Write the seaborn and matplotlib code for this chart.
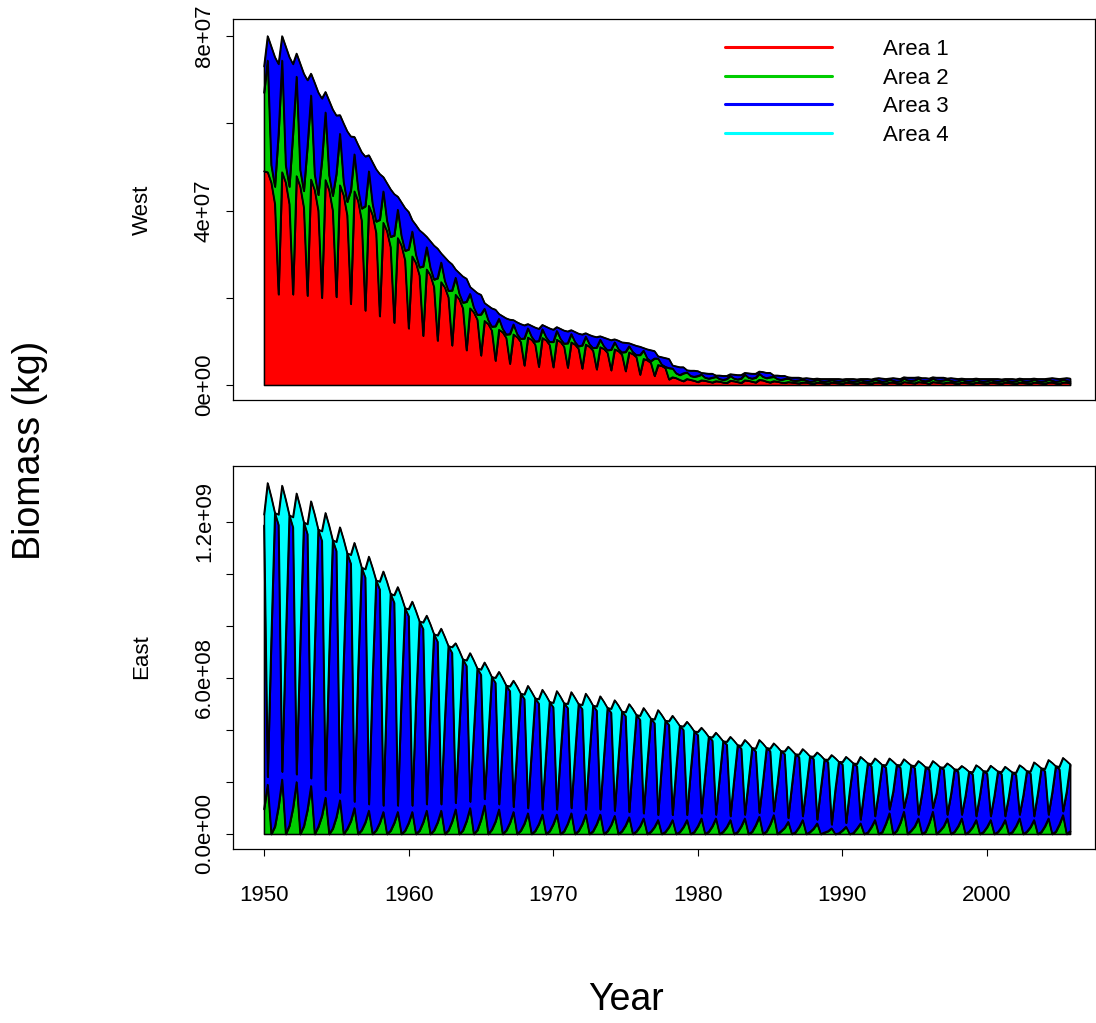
import numpy as np
import matplotlib
matplotlib.use("Agg")
import matplotlib.pyplot as plt
from matplotlib.lines import Line2D
from matplotlib.ticker import FixedLocator, FixedFormatter
import seaborn as sns

# ---------------------------------------------------------------
# Quarterly biomass by area, 1950-2005 (one value per year per quarter)
# ---------------------------------------------------------------
years = list(range(1950, 2006))
quarter_offsets = [0.0, 0.25, 0.5, 0.75]
area_labels = ["Area 1", "Area 2", "Area 3", "Area 4"]
area_colors = ["#FF0000", "#00CD00", "#0000FF", "#00FFFF"]

# West stock, units of 1e5 kg
WEST_UNIT = 1e5
west_a1_q1 = [490, 208, 208, 205, 200, 202, 186, 171, 158, 143,
              130, 113, 102, 91, 80, 68, 56, 49, 45, 42,
              41, 40, 38, 36, 34, 32, 24, 21, 13, 9,
              7, 6, 5, 5, 6, 6, 5, 4, 3, 3,
              3, 3, 3, 3, 3, 4, 3, 4, 3, 3,
              3, 3, 3, 3, 3, 3]
west_a1_q2 = [488, 488, 479, 471, 470, 458, 444, 411, 372, 337,
              295, 265, 236, 207, 176, 147, 127, 116, 109, 108,
              104, 98, 93, 87, 82, 75, 60, 46, 18, 14,
              11, 9, 10, 11, 12, 9, 7, 6, 6, 6,
              6, 6, 6, 6, 7, 7, 7, 6, 6, 6,
              6, 6, 6, 6, 6, 6]
west_a1_q3 = [464, 464, 455, 447, 447, 435, 422, 390, 353, 320,
              280, 252, 224, 197, 167, 140, 121, 110, 104, 103,
              99, 93, 88, 83, 78, 71, 57, 44, 16, 12,
              10, 8, 9, 10, 11, 8, 6, 6, 5, 5,
              5, 5, 6, 6, 6, 6, 6, 6, 5, 5,
              5, 5, 5, 5, 6, 6]
west_a1_q4 = [415, 415, 407, 400, 400, 389, 377, 349, 316, 286,
              251, 225, 201, 176, 150, 125, 108, 99, 93, 92,
              88, 83, 79, 74, 70, 64, 51, 39, 12, 10,
              8, 6, 7, 8, 8, 6, 5, 4, 4, 4,
              4, 4, 4, 4, 5, 5, 5, 4, 4, 4,
              4, 4, 4, 4, 4, 4]

west_a2_q1 = [180, 368, 368, 342, 314, 282, 260, 239, 221, 200,
              181, 159, 143, 126, 111, 94, 79, 68, 62, 59,
              58, 56, 53, 50, 47, 44, 45, 40, 26, 18,
              14, 11, 9, 10, 11, 12, 9, 7, 6, 6,
              6, 6, 6, 6, 6, 7, 7, 7, 6, 6,
              6, 6, 6, 6, 6, 6]
west_a2_q2 = [256, 256, 228, 193, 155, 118, 85, 79, 72, 65,
              57, 51, 45, 39, 33, 28, 25, 23, 21, 20,
              20, 19, 18, 17, 16, 14, 19, 15, 20, 15,
              13, 10, 11, 13, 14, 10, 8, 7, 7, 6,
              6, 6, 7, 7, 8, 8, 8, 7, 7, 7,
              6, 6, 7, 7, 7, 7]
west_a2_q3 = [40, 40, 38, 36, 34, 31, 28, 26, 24, 22,
              19, 17, 15, 13, 11, 9, 8, 7, 7, 7,
              7, 6, 6, 6, 5, 5, 4, 3, 11, 9,
              7, 6, 6, 7, 8, 6, 5, 4, 4, 4,
              4, 4, 4, 4, 5, 4, 5, 4, 4, 4,
              4, 4, 4, 4, 4, 4]
west_a2_q4 = [40, 40, 38, 36, 34, 31, 28, 26, 24, 22,
              19, 17, 15, 13, 11, 9, 8, 7, 7, 7,
              7, 6, 6, 6, 5, 5, 4, 3, 11, 9,
              7, 6, 6, 7, 8, 6, 5, 4, 4, 4,
              4, 4, 4, 4, 5, 4, 5, 4, 4, 4,
              4, 4, 4, 4, 4, 4]

west_a3_q1 = [60, 160, 160, 152, 143, 134, 124, 114, 105, 95,
              86, 76, 68, 60, 53, 45, 38, 33, 30, 28,
              28, 27, 25, 24, 22, 21, 19, 17, 21, 14,
              11, 9, 7, 8, 9, 10, 7, 6, 5, 5,
              4, 4, 4, 5, 5, 6, 5, 6, 5, 5,
              5, 4, 4, 5, 5, 5]
west_a3_q2 = [56, 56, 53, 50, 47, 43, 40, 37, 33, 30,
              26, 24, 21, 19, 16, 13, 11, 10, 10, 10,
              9, 9, 8, 8, 7, 7, 6, 5, 7, 5,
              4, 3, 4, 4, 5, 3, 3, 2, 2, 2,
              2, 2, 2, 2, 3, 3, 3, 2, 2, 2,
              2, 2, 2, 2, 2, 2]
west_a3_q3 = [272, 272, 244, 210, 171, 134, 101, 95, 86, 77,
              68, 61, 54, 47, 40, 33, 29, 27, 25, 24,
              23, 23, 21, 20, 19, 17, 21, 17, 16, 12,
              10, 8, 9, 10, 11, 8, 6, 6, 5, 5,
              5, 5, 6, 6, 6, 6, 6, 6, 5, 5,
              5, 5, 5, 5, 6, 6]
west_a3_q4 = [297, 297, 269, 235, 198, 162, 129, 120, 109, 98,
              85, 78, 68, 60, 50, 42, 37, 34, 32, 31,
              30, 29, 27, 26, 23, 21, 25, 20, 18, 14,
              11, 9, 10, 11, 12, 9, 7, 7, 6, 6,
              6, 6, 7, 7, 7, 7, 7, 7, 6, 6,
              6, 6, 6, 6, 7, 7]

# East stock, units of 1e6 kg
EAST_UNIT = 1e6
east_a2_q1 = [95, 105, 100, 93, 70, 65, 50, 45, 43, 43,
              43, 45, 45, 48, 50, 55, 48, 43, 40, 38,
              38, 40, 38, 38, 35, 33, 30, 27, 27, 27,
              30, 30, 27, 30, 34, 37, 24, 27, 21, 11,
              14, 21, 27, 40, 43, 30, 43, 30, 30, 27,
              27, 27, 30, 27, 30, 37]
east_a2_q2 = [190, 210, 200, 185, 140, 130, 100, 90, 85, 85,
              85, 90, 90, 95, 100, 110, 95, 85, 80, 75,
              75, 80, 75, 75, 70, 65, 60, 54, 54, 54,
              60, 60, 54, 60, 67, 73, 47, 54, 41, 22,
              28, 41, 54, 80, 86, 60, 86, 60, 60, 54,
              54, 54, 60, 54, 60, 73]
east_a2_q3 = [0, 0, 0, 0, 0, 0, 0, 0, 0, 0,
              0, 0, 0, 0, 0, 0, 0, 0, 0, 0,
              0, 0, 0, 0, 0, 0, 0, 0, 0, 0,
              0, 0, 0, 0, 0, 0, 0, 0, 0, 0,
              0, 0, 0, 0, 0, 0, 0, 0, 0, 0,
              0, 0, 0, 0, 0, 0]
east_a2_q4 = [29, 32, 30, 28, 21, 20, 15, 14, 13, 13,
              13, 14, 14, 14, 15, 17, 14, 13, 12, 11,
              11, 12, 11, 11, 11, 10, 9, 8, 8, 8,
              9, 9, 8, 9, 10, 11, 7, 8, 6, 3,
              4, 6, 8, 12, 13, 9, 13, 9, 9, 8,
              8, 8, 9, 8, 9, 11]

east_a3_q1 = [1092, 1084, 1080, 1061, 1058, 1024, 990, 942, 898, 847,
              795, 744, 695, 649, 597, 558, 534, 507, 480, 464,
              450, 445, 443, 437, 432, 421, 410, 400, 393, 374,
              351, 330, 317, 299, 284, 282, 284, 269, 268, 266,
              254, 240, 234, 216, 213, 224, 205, 218, 210, 203,
              206, 204, 198, 206, 212, 213]
east_a3_q2 = [30, 30, 30, 30, 30, 30, 25, 25, 25, 25,
              25, 25, 25, 25, 25, 25, 20, 20, 20, 20,
              20, 20, 20, 20, 20, 20, 20, 20, 20, 20,
              20, 15, 15, 15, 15, 15, 15, 15, 15, 15,
              15, 15, 15, 15, 15, 15, 15, 15, 15, 15,
              15, 15, 15, 15, 15, 15]
east_a3_q3 = [752, 746, 730, 713, 688, 657, 624, 594, 563, 529,
              498, 468, 440, 409, 388, 368, 348, 329, 317, 309,
              306, 304, 301, 295, 287, 279, 270, 266, 253, 241,
              228, 217, 208, 202, 202, 194, 187, 182, 175, 169,
              165, 165, 162, 162, 160, 157, 157, 152, 146, 148,
              146, 144, 148, 154, 159, 163]
east_a3_q4 = [1206, 1194, 1169, 1143, 1109, 1060, 1010, 962, 911, 856,
              805, 755, 709, 658, 622, 587, 557, 527, 510, 497,
              492, 488, 483, 474, 460, 448, 435, 428, 408, 387,
              365, 348, 334, 322, 321, 308, 300, 291, 281, 275,
              268, 266, 258, 254, 251, 248, 244, 240, 231, 234,
              233, 229, 233, 245, 252, 257]

east_a4_q1 = [41, 40, 39, 38, 37, 35, 34, 32, 30, 29,
              27, 25, 24, 22, 21, 20, 19, 18, 17, 17,
              17, 16, 16, 16, 15, 15, 15, 14, 14, 13,
              12, 12, 11, 11, 11, 10, 10, 10, 9, 9,
              9, 9, 9, 9, 9, 8, 8, 8, 8, 8,
              8, 8, 8, 8, 9, 9]
east_a4_q2 = [1130, 1100, 1080, 1065, 1065, 1020, 995, 952, 900, 840,
              784, 725, 675, 614, 571, 525, 509, 485, 470, 460,
              455, 446, 445, 435, 425, 415, 405, 403, 381, 358,
              329, 315, 305, 287, 280, 261, 274, 258, 258, 267,
              254, 241, 222, 196, 187, 206, 180, 197, 187, 196,
              194, 190, 190, 207, 210, 205]
east_a4_q3 = [544, 540, 528, 516, 498, 476, 451, 430, 407, 383,
              360, 339, 318, 296, 280, 266, 251, 238, 230, 224,
              222, 220, 218, 214, 208, 202, 195, 192, 183, 174,
              165, 157, 151, 146, 146, 141, 135, 132, 127, 123,
              120, 120, 117, 117, 116, 113, 113, 110, 106, 107,
              106, 104, 107, 111, 115, 118]
east_a4_q4 = [0, 0, 0, 0, 0, 0, 0, 0, 0, 0,
              0, 0, 0, 0, 0, 0, 0, 0, 0, 0,
              0, 0, 0, 0, 0, 0, 0, 0, 0, 0,
              0, 0, 0, 0, 0, 0, 0, 0, 0, 0,
              0, 0, 0, 0, 0, 0, 0, 0, 0, 0,
              0, 0, 0, 0, 0, 0]

x_ticks = [1950, 1960, 1970, 1980, 1990, 2000]
west_yticks = [0, 2e7, 4e7, 6e7, 8e7]
west_ylabels = ["0e+00", "", "4e+07", "", "8e+07"]
east_yticks = [0, 2e8, 4e8, 6e8, 8e8, 1e9, 1.2e9]
east_ylabels = ["0.0e+00", "", "", "6.0e+08", "", "", "1.2e+09"]


def interleave(q1, q2, q3, q4, unit):
    """Join the four quarterly lists into one time-ordered series."""
    return np.column_stack([q1, q2, q3, q4]).ravel().astype(float) * unit


time = (np.array(years)[:, None] + np.array(quarter_offsets)[None, :]).ravel()

west_layers = [
    (interleave(west_a1_q1, west_a1_q2, west_a1_q3, west_a1_q4, WEST_UNIT), area_colors[0]),
    (interleave(west_a2_q1, west_a2_q2, west_a2_q3, west_a2_q4, WEST_UNIT), area_colors[1]),
    (interleave(west_a3_q1, west_a3_q2, west_a3_q3, west_a3_q4, WEST_UNIT), area_colors[2]),
]
east_layers = [
    (interleave(east_a2_q1, east_a2_q2, east_a2_q3, east_a2_q4, EAST_UNIT), area_colors[1]),
    (interleave(east_a3_q1, east_a3_q2, east_a3_q3, east_a3_q4, EAST_UNIT), area_colors[2]),
    (interleave(east_a4_q1, east_a4_q2, east_a4_q3, east_a4_q4, EAST_UNIT), area_colors[3]),
]

# ---------------------------------------------------------------
# Styling
# ---------------------------------------------------------------
sns.set_theme(style="ticks")
plt.rcParams["font.family"] = ["Liberation Sans", "DejaVu Sans"]
plt.rcParams["text.color"] = "black"
plt.rcParams["axes.labelcolor"] = "black"
plt.rcParams["axes.edgecolor"] = "black"
plt.rcParams["axes.linewidth"] = 0.9
plt.rcParams["xtick.color"] = "black"
plt.rcParams["ytick.color"] = "black"
plt.rcParams["xtick.labelcolor"] = "black"
plt.rcParams["ytick.labelcolor"] = "black"

DPI = 100
fig = plt.figure(figsize=(1096 / DPI, 1023 / DPI), dpi=DPI)
fig.patch.set_facecolor("white")

ax_w = fig.add_axes([0.2126, 0.6090, 0.7865, 0.3724])
ax_e = fig.add_axes([0.2126, 0.1701, 0.7865, 0.3744])


def draw_stack(ax, layers):
    lower = np.zeros_like(time, dtype=float)
    for values, color in layers:
        upper = lower + values
        ax.fill_between(time, lower, upper, facecolor=color,
                        edgecolor="black", linewidth=1.1, zorder=2)
        sns.lineplot(x=time, y=upper, color="black", linewidth=1.1,
                     ax=ax, zorder=3, estimator=None, sort=False)
        lower = upper


draw_stack(ax_w, west_layers)
draw_stack(ax_e, east_layers)

for ax in (ax_w, ax_e):
    ax.set_xlim(1947.86, 2007.47)
    ax.set_facecolor("white")
    ax.grid(False)
    for sp in ax.spines.values():
        sp.set_visible(True)
        sp.set_color("black")
        sp.set_linewidth(0.9)
    ax.tick_params(axis="y", direction="out", length=5, width=0.8,
                   labelsize=16, pad=8, colors="black")
    ax.set_xlabel("")
    ax.set_ylabel("")

ax_w.set_ylim(-3.44e6, 83.9e6)
ax_e.set_ylim(-5.77e7, 1.4154e9)

ax_w.yaxis.set_major_locator(FixedLocator(west_yticks))
ax_w.yaxis.set_major_formatter(FixedFormatter(west_ylabels))
ax_e.yaxis.set_major_locator(FixedLocator(east_yticks))
ax_e.yaxis.set_major_formatter(FixedFormatter(east_ylabels))
for ax in (ax_w, ax_e):
    for lab in ax.get_yticklabels():
        lab.set_rotation(90)
        lab.set_va("center")

ax_w.tick_params(axis="x", bottom=False, labelbottom=False)
ax_e.set_xticks(x_ticks)
ax_e.set_xticklabels([str(v) for v in x_ticks])
ax_e.tick_params(axis="x", direction="out", length=5, width=0.8,
                 labelsize=16, pad=21, colors="black")

# Legend (no frame) in the West panel
handles = [Line2D([0], [0], color=c, linewidth=2.2) for c in area_colors]
leg = ax_w.legend(handles, area_labels, loc="upper left",
                  bbox_to_anchor=(0.5708, 0.947), frameon=False, fontsize=16,
                  handlelength=4.8, handletextpad=2.3, labelspacing=0.335,
                  borderaxespad=0, borderpad=0)
for t in leg.get_texts():
    t.set_color("black")

# Panel and axis titles
fig.text(0.1296, 0.7947, "West", rotation=90, ha="center", va="center",
         fontsize=16, color="black")
fig.text(0.1296, 0.3578, "East", rotation=90, ha="center", va="center",
         fontsize=16, color="black")
fig.text(0.0274, 0.56, "Biomass (kg)", rotation=90, ha="center",
         va="center", fontsize=27, color="black")
fig.text(0.571, 0.0225, "Year", ha="center", va="center", fontsize=27,
         color="black")

fig.savefig("out.png", dpi=DPI, facecolor="white")
